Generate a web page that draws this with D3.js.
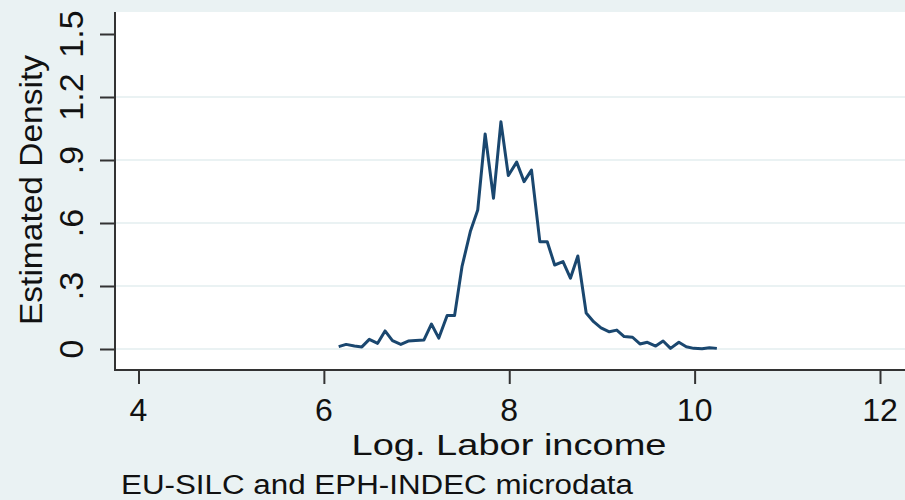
<!DOCTYPE html>
<html>
<head>
<meta charset="utf-8">
<script src="https://cdn.jsdelivr.net/npm/d3@7"></script>
<style>
  html, body { margin: 0; padding: 0; background: #eaf2f3; }
  svg { display: block; font-family: "Liberation Sans", Arial, sans-serif; }
</style>
</head>
<body>
<svg id="chart" width="905" height="500"></svg>
<script>
// log labor income (bin centres) and estimated density
const logIncome = [6.16, 6.24, 6.33, 6.41, 6.49, 6.58, 6.66, 6.74, 6.83, 6.91,
                   6.99, 7.08, 7.16, 7.24, 7.33, 7.41, 7.49, 7.58, 7.66, 7.74,
                   7.83, 7.91, 7.99, 8.08, 8.16, 8.24, 8.33, 8.41, 8.49, 8.58,
                   8.66, 8.74, 8.83, 8.91, 8.99, 9.08, 9.16, 9.24, 9.33, 9.41,
                   9.49, 9.58, 9.66, 9.74, 9.83, 9.91, 9.99, 10.08, 10.16, 10.24];
const density = [0.011, 0.022, 0.014, 0.010, 0.046, 0.027, 0.086, 0.040, 0.022, 0.038,
                 0.041, 0.043, 0.119, 0.052, 0.160, 0.159, 0.392, 0.559, 0.662, 1.024,
                 0.718, 1.082, 0.826, 0.890, 0.797, 0.852, 0.511, 0.511, 0.400, 0.416,
                 0.337, 0.443, 0.171, 0.130, 0.101, 0.082, 0.090, 0.059, 0.056, 0.024,
                 0.032, 0.014, 0.038, 0.003, 0.032, 0.011, 0.003, 0.001, 0.006, 0.003];
const xTicks = [4, 6, 8, 10, 12];
const yTicks = [0, 0.3, 0.6, 0.9, 1.2, 1.5];
const yTickLabels = ["0", ".3", ".6", ".9", "1.2", "1.5"];

const svg = d3.select("#chart");
const plot = { left: 115, right: 905, top: 12, bottom: 370 };

const x = d3.scaleLinear().domain([4, 12]).range([138.5, 880]);
const y = d3.scaleLinear().domain([0, 1.5]).range([349, 34]);

// white plot region
svg.append("rect")
    .attr("x", plot.left).attr("y", plot.top)
    .attr("width", plot.right - plot.left).attr("height", plot.bottom - plot.top)
    .attr("fill", "#fff");

// horizontal grid (none at the top tick)
svg.append("g")
    .selectAll("line")
    .data(yTicks.filter(d => d < 1.5))
    .enter().append("line")
    .attr("x1", plot.left).attr("x2", plot.right)
    .attr("y1", d => y(d)).attr("y2", d => y(d))
    .attr("stroke", "#eaf2f3")
    .attr("stroke-width", 2);

// density line
const line = d3.line().x((d, i) => x(logIncome[i])).y(d => y(d));
svg.append("path")
    .datum(density)
    .attr("fill", "none")
    .attr("stroke", "#1a476f")
    .attr("stroke-width", 3)
    .attr("stroke-linejoin", "round")
    .attr("d", line);

// y axis
const yAxis = svg.append("g")
    .attr("transform", `translate(${plot.left},0)`)
    .call(d3.axisLeft(y).tickValues(yTicks).tickSize(15).tickFormat(""));
yAxis.select(".domain").remove();
yAxis.selectAll(".tick line").attr("stroke", "#333").attr("stroke-width", 2);
svg.append("line")
    .attr("x1", plot.left).attr("x2", plot.left)
    .attr("y1", plot.top).attr("y2", plot.bottom + 1)
    .attr("stroke", "#333").attr("stroke-width", 2);

svg.append("g")
    .selectAll("text")
    .data(yTicks)
    .enter().append("text")
    .attr("transform", d => `translate(83,${y(d)}) rotate(-90)`)
    .attr("text-anchor", "middle")
    .attr("font-size", 34)
    .attr("fill", "#111")
    .text((d, i) => yTickLabels[i]);

// x axis
const xAxis = svg.append("g")
    .attr("transform", `translate(0,${plot.bottom})`)
    .call(d3.axisBottom(x).tickValues(xTicks).tickSize(14).tickFormat(""));
xAxis.select(".domain").remove();
xAxis.selectAll(".tick line").attr("stroke", "#333").attr("stroke-width", 2);
svg.append("line")
    .attr("x1", plot.left - 1).attr("x2", plot.right)
    .attr("y1", plot.bottom).attr("y2", plot.bottom)
    .attr("stroke", "#333").attr("stroke-width", 2);

svg.append("g")
    .selectAll("text")
    .data(xTicks)
    .enter().append("text")
    .attr("x", d => x(d))
    .attr("y", 421)
    .attr("text-anchor", "middle")
    .attr("font-size", 32)
    .attr("fill", "#111")
    .text(d => d);

// titles
svg.append("text")
    .attr("x", 509).attr("y", 455)
    .attr("text-anchor", "middle")
    .attr("font-size", 29)
    .attr("textLength", 315).attr("lengthAdjust", "spacingAndGlyphs")
    .attr("fill", "#111")
    .text("Log. Labor income");

svg.append("text")
    .attr("transform", "translate(42,190) rotate(-90)")
    .attr("text-anchor", "middle")
    .attr("font-size", 32)
    .attr("textLength", 270).attr("lengthAdjust", "spacingAndGlyphs")
    .attr("fill", "#111")
    .text("Estimated Density");

svg.append("text")
    .attr("x", 121).attr("y", 494)
    .attr("font-size", 27)
    .attr("textLength", 512).attr("lengthAdjust", "spacingAndGlyphs")
    .attr("fill", "#111")
    .text("EU-SILC and EPH-INDEC microdata");
</script>
</body>
</html>
